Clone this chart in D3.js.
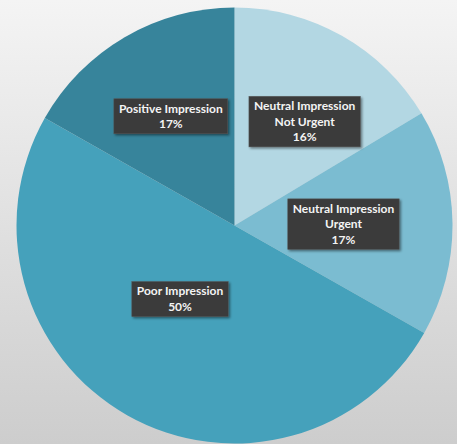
<!DOCTYPE html>
<html>
<head>
<meta charset="utf-8">
<script src="https://cdn.jsdelivr.net/npm/d3@7"></script>
<style>
  html, body { margin: 0; padding: 0; }
  svg { display: block; }
</style>
</head>
<body>
<div id="chart"></div>
<script>
// data
var categories = ["Neutral Impression\nNot Urgent", "Neutral Impression\nUrgent", "Poor Impression", "Positive Impression"];
var shares = [16.4, 16.8, 50.0, 16.8];
var sliceColors = ["#b3d7e3", "#7bbcd1", "#45a1bb", "#37849b"];

// label placement (fraction of radius, angle nudge in degrees)
var labelRadius = [0.575, 0.5, 0.42, 0.58];
var labelNudge = [4.5, 0, 7, 0];

var width = 457, height = 444;
var cx = 234.5, cy = 225.5, radius = 218;

var svg = d3.select("#chart")
    .append("svg")
    .attr("width", width)
    .attr("height", height);

var defs = svg.append("defs");

var bg = defs.append("linearGradient")
    .attr("id", "bgGrad")
    .attr("x1", 0).attr("y1", 0)
    .attr("x2", 0).attr("y2", 1);
bg.append("stop").attr("offset", "0%").attr("stop-color", "#f4f4f4");
bg.append("stop").attr("offset", "100%").attr("stop-color", "#cdcdcd");

var shadow = defs.append("filter")
    .attr("id", "boxShadow")
    .attr("x", "-20%").attr("y", "-30%")
    .attr("width", "140%").attr("height", "160%");
shadow.append("feDropShadow")
    .attr("dx", 1.5).attr("dy", 1.5)
    .attr("stdDeviation", 1.2)
    .attr("flood-color", "#000")
    .attr("flood-opacity", 0.45);

svg.append("rect")
    .attr("width", width)
    .attr("height", height)
    .attr("fill", "url(#bgGrad)");

var pie = d3.pie()
    .sort(null)
    .value(function(d) { return d; });

var arc = d3.arc()
    .innerRadius(0)
    .outerRadius(radius);

var arcs = pie(shares);

var g = svg.append("g")
    .attr("transform", "translate(" + cx + "," + cy + ")");

g.selectAll("path.slice")
    .data(arcs)
    .enter()
    .append("path")
    .attr("class", "slice")
    .attr("d", arc)
    .attr("fill", function(d, i) { return sliceColors[i]; });

var lineH = 15.5;
var fontSize = 12;

var labels = g.selectAll("g.label")
    .data(arcs)
    .enter()
    .append("g")
    .attr("class", "label")
    .attr("transform", function(d, i) {
        var a = (d.startAngle + d.endAngle) / 2 + labelNudge[i] * Math.PI / 180;
        var r = radius * labelRadius[i];
        return "translate(" + (r * Math.sin(a)) + "," + (-r * Math.cos(a)) + ")";
    });

labels.each(function(d, i) {
    var lab = d3.select(this);
    var lines = categories[i].split("\n");
    lines.push(Math.round(shares[i]) + "%");

    var box = lab.append("rect")
        .attr("fill", "#3b3b3b")
        .attr("stroke", "#555")
        .attr("stroke-width", 0.5)
        .attr("filter", "url(#boxShadow)");

    var text = lab.append("text")
        .attr("text-anchor", "middle")
        .attr("font-family", "Lato, 'Open Sans', sans-serif")
        .attr("font-weight", "bold")
        .attr("font-size", fontSize)
        .attr("fill", "#f4f4f4");

    var top = -(lines.length * lineH) / 2;
    var maxW = 0;
    lines.forEach(function(t, k) {
        var ts = text.append("tspan")
            .attr("x", 0)
            .attr("y", top + lineH * k + lineH / 2 + 4)
            .text(t);
        maxW = Math.max(maxW, ts.node().getComputedTextLength());
    });

    var bw = maxW + 10, bh = lines.length * lineH + 4;
    box.attr("x", -bw / 2)
        .attr("y", -bh / 2)
        .attr("width", bw)
        .attr("height", bh);
});
</script>
</body>
</html>
